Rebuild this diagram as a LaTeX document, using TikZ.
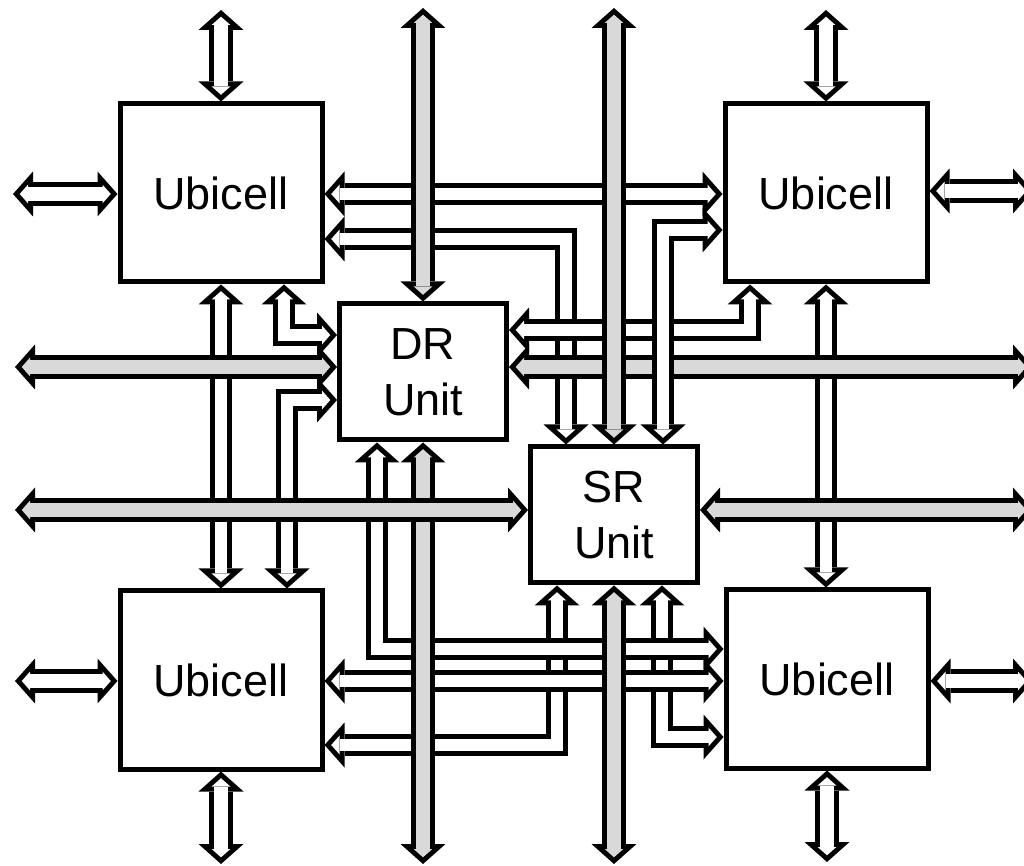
\documentclass[tikz,border=0pt]{standalone}
\usepackage{fontspec}
\setmainfont{Liberation Sans}
\usetikzlibrary{arrows.meta}
\definecolor{busgray}{RGB}{217,217,217}
\pgfdeclarelayer{links}
\pgfsetlayers{links,main}

\begin{document}
\begin{tikzpicture}[
        x=0.1mm, y=-0.1mm,
        hollow/.style n args={3}{line width=#1, draw=black,
            >={Triangle[length=2mm,width=4.5mm,line width=0pt]}, <->,
            postaction={draw=#3, line width=#2,
                >={Triangle[length=0.83mm,width=1.87mm,line width=0pt]}, <->,
                shorten <=0.67mm, shorten >=0.67mm}},
        link/.style={hollow={2.2mm}{1.2mm}{white}},
        port/.style={hollow={2.4mm}{1.4mm}{white}},
        bus/.style={hollow={2.4mm}{1.4mm}{busgray}},
        box/.style={draw, line width=0.5mm, fill=white, inner sep=0pt, align=center,
            font=\fontsize{12.8}{15.9}\selectfont},
        cell/.style={box, minimum width=20.2mm, minimum height=17.8mm},
        unit/.style={box, minimum width=16.7mm, minimum height=13.6mm}
    ]
    \useasboundingbox (0,0) rectangle (1024,866);

    % Bloques
    \node[cell] (tl) at (221,193) {Ubicell};
    \node[cell] (tr) at (826,193) {Ubicell};
    \node[cell] (bl) at (221,680) {Ubicell};
    \node[cell] (br) at (827,679) {Ubicell};
    \node[unit] (dr) at (423,372) {DR\\Unit};
    \node[unit] (sr) at (614,515) {SR\\Unit};

    % Extremos libres
    \coordinate (tlN) at (221,10);   \coordinate (tlW) at (13,194);
    \coordinate (trN) at (826,10);   \coordinate (trE) at (1033,191);
    \coordinate (blW) at (15,681);   \coordinate (blS) at (221,864);
    \coordinate (brE) at (1033,681); \coordinate (brS) at (827,862);
    \coordinate (drN) at (423,8);    \coordinate (drS) at (423,864);
    \coordinate (drW) at (15,367);   \coordinate (drE) at (1033,367);
    \coordinate (srN) at (614,8);    \coordinate (srS) at (614,864);
    \coordinate (srW) at (15,510);   \coordinate (srE) at (1033,510);

    \begin{pgfonlayer}{links}
    % Enlaces entre Ubicells y unidades
    \draw[link] (tl.south) -- (bl.north);
    \draw[link] (tr.south -| 826,0) -- (br.north -| 826,0);
    \draw[link] (tl.east |- 0,239) -| (sr.north -| 566,0);
    \draw[link] (dr.west |- 0,400) -| (bl.north -| 287,0);
    \draw[link] (sr.south -| 557,0) |- (bl.east |- 0,745);
    \draw[link] (sr.south -| 662,0) |- (br.west |- 0,737);
    \draw[link] (tl.south -| 284,0) |- (dr.west |- 0,335);
    \draw[link] (dr.south -| 377,0) |- (br.west |- 0,649);
    \draw[link] (bl.east |- 0,681) -- (br.west |- 0,681);
    \draw[link] (dr.east |- 0,330) -| (tr.south -| 750,0);
    \draw[link] (tl.east |- 0,194) -- (tr.west |- 0,194);

    % Buses grises
    \draw[bus] (dr.south) -- (drS);
    \draw[bus] (drW) -- (dr.west |- drW);
    \draw[bus] (dr.east |- drE) -- (drE);
    \draw[bus] (srW) -- (sr.west |- srW);
    \draw[bus] (sr.east |- srE) -- (srE);
    \draw[link] (tr.west |- 0,230) -| (sr.north -| 663,0);
    \draw[bus] (drN) -- (dr.north);
    \draw[bus] (srN) -- (sr.north);
    \draw[bus] (sr.south) -- (srS);

    % Puertos exteriores
    \draw[port] (tlN) -- (tl.north);
    \draw[port] (tlW) -- (tl.west |- tlW);
    \draw[port] (trN) -- (tr.north);
    \draw[port] (tr.east |- trE) -- (trE);
    \draw[port] (blW) -- (bl.west |- blW);
    \draw[port] (bl.south) -- (blS);
    \draw[port] (br.east |- brE) -- (brE);
    \draw[port] (br.south) -- (brS);
    \end{pgfonlayer}
\end{tikzpicture}
\end{document}
